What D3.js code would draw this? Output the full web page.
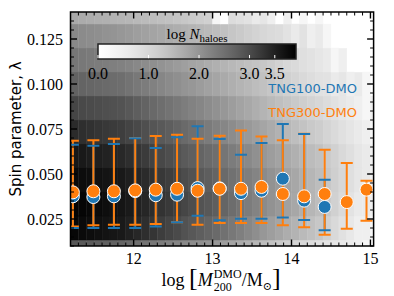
<!DOCTYPE html>
<html>
<head>
<meta charset="utf-8">
<script src="https://cdn.jsdelivr.net/npm/d3@7"></script>
<style>
  body { margin: 0; background: #fff; }
  svg { display: block; }
</style>
</head>
<body>
<div id="chart"></div>
<script>
// halo mass bin edges (log M200) and spin bin edges of the background histogram
const massEdges = [11.2, 11.3, 11.4, 11.5, 11.6, 11.7, 11.8, 11.9, 12.0, 12.1,
  12.2, 12.3, 12.4, 12.5, 12.6, 12.7, 12.8, 12.9, 13.0, 13.1,
  13.2, 13.3, 13.4, 13.5, 13.6, 13.7, 13.8, 13.9, 14.0, 14.1,
  14.2, 14.3, 14.4, 14.5, 14.6, 14.7, 14.8, 14.9, 15.0, 15.1];
const lambdaEdges = [0, 0.01333, 0.02667, 0.04, 0.05333, 0.06667, 0.08,
  0.09333, 0.10667, 0.12, 0.13333, 0.14667];

// log N_haloes per cell, one array per spin bin (bottom to top), null = empty
const logN_0 = [2.85,2.82,2.79,2.76,2.73,2.7,2.67,2.6,2.53,2.46,2.4,2.33,2.26,2.21,2.16,2.11,2.06,2.01,1.96,1.88,1.79,1.71,1.62,1.54,1.45,1.36,1.26,1.17,1.08,0.99,0.89,0.8,0.74,0.68,0.6,0.55,0.49,0.3,null];
const logN_1 = [3.83,3.79,3.75,3.71,3.67,3.63,3.59,3.51,3.42,3.34,3.26,3.17,3.09,3.01,2.92,2.84,2.76,2.67,2.59,2.49,2.38,2.28,2.17,2.07,1.96,1.86,1.77,1.67,1.58,1.48,1.39,1.29,1.13,0.97,0.81,0.65,0.49,0.48,0.3];
const logN_2 = [3.88,3.85,3.81,3.77,3.73,3.69,3.65,3.58,3.5,3.43,3.36,3.28,3.21,3.13,3.06,2.98,2.9,2.83,2.75,2.65,2.54,2.44,2.33,2.23,2.12,2.02,1.93,1.83,1.74,1.64,1.55,1.45,1.28,1.11,0.94,0.77,0.6,0.6,0.48];
const logN_3 = [3.79,3.76,3.73,3.69,3.66,3.62,3.59,3.52,3.44,3.37,3.3,3.22,3.15,3.07,2.99,2.91,2.83,2.75,2.67,2.58,2.49,2.4,2.3,2.21,2.12,2.02,1.93,1.83,1.74,1.64,1.55,1.45,1.3,1.15,1.0,0.85,0.7,0.6,0.48];
const logN_4 = [3.62,3.59,3.55,3.52,3.48,3.45,3.41,3.34,3.26,3.19,3.11,3.04,2.96,2.89,2.81,2.74,2.67,2.59,2.52,2.43,2.33,2.24,2.15,2.05,1.96,1.88,1.8,1.71,1.63,1.55,1.46,1.38,1.24,1.11,0.97,0.84,0.7,0.6,0.48];
const logN_5 = [3.38,3.34,3.3,3.26,3.23,3.19,3.15,3.08,3.02,2.95,2.88,2.82,2.75,2.67,2.59,2.51,2.42,2.34,2.26,2.18,2.1,2.01,1.93,1.85,1.77,1.69,1.6,1.52,1.43,1.35,1.26,1.18,1.06,0.95,0.83,0.72,0.6,0.48,0.3];
const logN_6 = [3.06,3.03,3.0,2.98,2.95,2.93,2.9,2.83,2.75,2.68,2.6,2.53,2.45,2.38,2.31,2.24,2.18,2.11,2.04,1.96,1.88,1.8,1.73,1.65,1.57,1.49,1.41,1.33,1.25,1.16,1.08,1.0,0.9,0.8,0.7,0.6,0.49,0.3,0.48];
const logN_7 = [2.7,2.67,2.64,2.61,2.58,2.55,2.52,2.45,2.39,2.32,2.25,2.19,2.12,2.06,2.0,1.95,1.89,1.83,1.77,1.7,1.64,1.57,1.51,1.44,1.38,1.3,1.21,1.13,1.05,0.96,0.88,0.8,0.78,0.6,0.7,0.48,0.6,0.3,null];
const logN_8 = [2.41,2.38,2.36,2.33,2.31,2.28,2.26,2.21,2.16,2.11,2.06,2.01,1.96,1.9,1.85,1.79,1.74,1.68,1.63,1.57,1.52,1.46,1.4,1.35,1.29,1.2,1.1,1.0,0.95,0.85,0.78,0.7,0.6,0.3,0.48,null,0,null,null];
const logN_9 = [2.15,2.12,2.09,2.06,2.02,1.99,1.96,1.92,1.87,1.83,1.78,1.74,1.69,1.65,1.61,1.57,1.53,1.49,1.45,1.38,1.3,1.23,1.15,1.08,1.0,0.95,0.9,0.78,0.6,0.78,0.48,0.6,0.3,null,0,null,null,null,null];
const logN_10 = [1.72,1.69,1.66,1.64,1.62,1.59,1.57,1.54,1.5,1.47,1.44,1.41,1.38,1.33,1.28,1.23,1.18,1.13,0.3,0,0.9,0.85,0.78,0.6,0.7,0.48,0,0.48,null,0.3,null,0.3,null,0,null,null,null,null,null];
const logNRows = [logN_0, logN_1, logN_2, logN_3, logN_4, logN_5, logN_6, logN_7, logN_8, logN_9, logN_10];

// binned medians and 16-84 percentiles
const massCentres = [11.23, 11.49, 11.75, 12.02, 12.28, 12.55, 12.81, 13.09, 13.36, 13.62, 13.89, 14.16, 14.42, 14.70, 14.95];
const tng300Median = [0.0398, 0.0404, 0.0404, 0.0409, 0.0413, 0.0418, 0.0407, 0.0418, 0.0418, 0.0428, 0.0389, 0.0376, 0.0389, 0.0344, 0.0413];
const tng300Hi = [0.0685, 0.0687, 0.0696, 0.0700, 0.0711, 0.0718, 0.0696, 0.0713, 0.0741, 0.0709, 0.0687, 0.0724, 0.0635, 0.0561, 0.0463];
const tng300Lo = [0.0209, 0.0215, 0.0218, 0.0218, 0.0222, 0.0232, 0.0218, 0.0228, 0.0228, 0.0228, 0.0215, 0.0204, 0.0163, 0.0196, 0.0240];
const tng100Median = [0.0376, 0.0372, 0.0376, 0.0405, 0.0382, 0.0385, 0.0422, 0.0420, 0.0394, 0.0407, 0.0474, 0.0352, 0.0317];
const tng100Hi = [0.0663, 0.0657, 0.0667, 0.0698, 0.0644, 0.0704, 0.0765, 0.0694, 0.0607, 0.0672, 0.0778, 0.0722, 0.0468];
const tng100Lo = [0.0200, 0.0200, 0.0200, 0.0200, 0.0209, 0.0232, 0.0268, 0.0243, 0.0252, 0.0252, 0.0259, 0.0244, 0.0187];

const xTicks = [12, 13, 14, 15];
const yTicks = [0.025, 0.05, 0.075, 0.1, 0.125];
const cbarTicks = [0.0, 1.0, 2.0, 3.0, 3.5];
const cbarMax = 3.92;

const blue = "#1f77b4", orange = "#ff7f0e";
const serif = "'Liberation Serif', 'DejaVu Serif', serif";
const sans = "'DejaVu Sans', sans-serif";

const width = 394, height = 296;
const pLeft = 70.5, pRight = 373.6, pTop = 12, pBottom = 246;

const svg = d3.select("#chart").append("svg")
    .attr("width", width).attr("height", height);

const x = d3.scaleLinear().domain([11.2, 15.04]).range([pLeft, pRight]);
const y = d3.scaleLinear().domain([0.01, 0.14]).range([pBottom, pTop]);
const colour = d3.scaleSequential(d3.interpolateGreys).domain([0, cbarMax]);

svg.append("clipPath").attr("id", "plot-clip")
  .append("rect").attr("x", pLeft).attr("y", pTop)
    .attr("width", pRight - pLeft).attr("height", pBottom - pTop);

const plot = svg.append("g").attr("clip-path", "url(#plot-clip)");

// background 2d histogram
const cells = [];
logNRows.forEach((row, r) => row.forEach((v, k) => {
  if (v !== null) cells.push({k, r, v});
}));
plot.append("g")
  .selectAll("rect")
  .data(cells)
  .join("rect")
    .attr("x", d => x(massEdges[d.k]))
    .attr("y", d => y(lambdaEdges[d.r + 1]))
    .attr("width", d => x(massEdges[d.k + 1]) - x(massEdges[d.k]))
    .attr("height", d => y(lambdaEdges[d.r]) - y(lambdaEdges[d.r + 1]))
    .attr("fill", d => colour(d.v))
    .attr("stroke", d => colour(d.v))
    .attr("stroke-width", 0.4);

// error bars + points
function stems(g, xs, lo, hi, col) {
  g.selectAll(null).data(xs).join("line")
    .attr("x1", m => x(m)).attr("x2", m => x(m))
    .attr("y1", (m, i) => y(lo[i])).attr("y2", (m, i) => y(hi[i]))
    .attr("stroke", col).attr("stroke-width", 2);
}
function caps(g, xs, lo, hi, col) {
  [lo, hi].forEach(vals => {
    g.selectAll(null).data(xs).join("line")
      .attr("x1", m => x(m) - 6).attr("x2", m => x(m) + 6)
      .attr("y1", (m, i) => y(vals[i])).attr("y2", (m, i) => y(vals[i]))
      .attr("stroke", col).attr("stroke-width", 2);
  });
}
function points(g, xs, med, col) {
  g.selectAll(null).data(med).join("circle")
    .attr("cx", (v, i) => x(xs[i])).attr("cy", v => y(v))
    .attr("r", 6.5)
    .attr("fill", col).attr("stroke", "#fff").attr("stroke-width", 1);
}

const bars = plot.append("g");
const x100 = massCentres.slice(0, tng100Median.length);
stems(bars.append("g"), x100, tng100Lo, tng100Hi, blue);
stems(bars.append("g"), massCentres, tng300Lo, tng300Hi, orange);
caps(bars.append("g"), massCentres, tng300Lo, tng300Hi, orange);
caps(bars.append("g"), x100, tng100Lo, tng100Hi, blue);
points(bars.append("g"), x100, tng100Median, blue);
points(bars.append("g"), massCentres, tng300Median, orange);

// axes frame and ticks (inward, mirrored)
const axes = svg.append("g").attr("stroke", "#000");
const xMinor = d3.range(112, 151).map(v => v / 10).filter(v => !xTicks.includes(v));
const yMinor = d3.range(2, 28).map(v => v * 0.005).filter(v => !yTicks.some(t => Math.abs(t - v) < 1e-6));

[[xTicks, 6.5, 1.4], [xMinor, 3.5, 1]].forEach(([vals, len, w]) => {
  vals.forEach(v => {
    axes.append("line").attr("x1", x(v)).attr("x2", x(v))
      .attr("y1", pBottom).attr("y2", pBottom - len).attr("stroke-width", w);
    axes.append("line").attr("x1", x(v)).attr("x2", x(v))
      .attr("y1", pTop).attr("y2", pTop + len).attr("stroke-width", w);
  });
});
[[yTicks, 6.5, 1.4], [yMinor, 3.5, 1]].forEach(([vals, len, w]) => {
  vals.forEach(v => {
    axes.append("line").attr("y1", y(v)).attr("y2", y(v))
      .attr("x1", pLeft).attr("x2", pLeft + len).attr("stroke-width", w);
    axes.append("line").attr("y1", y(v)).attr("y2", y(v))
      .attr("x1", pRight).attr("x2", pRight - len).attr("stroke-width", w);
  });
});
axes.append("rect").attr("x", pLeft).attr("y", pTop)
  .attr("width", pRight - pLeft).attr("height", pBottom - pTop)
  .attr("fill", "none").attr("stroke-width", 1.5);

svg.append("g").selectAll("text").data(xTicks).join("text")
  .attr("x", d => x(d)).attr("y", 264)
  .attr("text-anchor", "middle")
  .style("font-family", serif).style("font-size", "16px")
  .text(d => d);
svg.append("g").selectAll("text").data(yTicks).join("text")
  .attr("x", 63).attr("y", d => y(d) + 5.5)
  .attr("text-anchor", "end")
  .style("font-family", serif).style("font-size", "16px")
  .text(d => d3.format(".3f")(d));

// y label
svg.append("text")
  .attr("transform", `translate(21,${(pTop + pBottom) / 2}) rotate(-90)`)
  .attr("text-anchor", "middle")
  .style("font-family", sans).style("font-size", "15px")
  .text("Spin parameter, λ");

// x label: log [M_200^DMO / M_sun]
function textWidth(str, size, style) {
  const t = svg.append("text").style("font-family", serif)
    .style("font-size", size + "px").style("font-style", style || "normal").text(str);
  const w = t.node().getComputedTextLength();
  t.remove();
  return w;
}
const wSup = textWidth("DMO", 12), wSub = textWidth("200", 12);
const xl = svg.append("text").attr("x", 221).attr("y", 286)
  .attr("text-anchor", "middle")
  .style("font-family", serif).style("font-size", "18px");
xl.append("tspan").text("log ");
xl.append("tspan").style("font-size", "26px").text("[");
xl.append("tspan").style("font-style", "italic").text("M");
xl.append("tspan").style("font-size", "12px").attr("dy", -8).attr("dx", 1).text("DMO");
xl.append("tspan").style("font-size", "12px").attr("dy", 13).attr("dx", -wSup).text("200");
xl.append("tspan").attr("dy", -5).attr("dx", wSup - wSub).text("/M");
xl.append("tspan").style("font-size", "11px").attr("dy", 4).text("⊙");
xl.append("tspan").style("font-size", "26px").attr("dy", -4).text("]");

// legend
svg.append("text").attr("x", 357).attr("y", 93).attr("text-anchor", "end")
  .style("font-family", sans).style("font-size", "13px").attr("fill", blue)
  .text("TNG100-DMO");
svg.append("text").attr("x", 357).attr("y", 117).attr("text-anchor", "end")
  .style("font-family", sans).style("font-size", "13px").attr("fill", orange)
  .text("TNG300-DMO");

// colour bar
const cb = d3.scaleLinear().domain([0, cbarMax]).range([98, 296]);
const cbTop = 44, cbH = 15;
const grad = svg.append("defs").append("linearGradient").attr("id", "cbar-grad");
d3.range(0, 1.0001, 0.05).forEach(t => {
  grad.append("stop").attr("offset", t).attr("stop-color", d3.interpolateGreys(t));
});
svg.append("rect").attr("x", cb(0)).attr("y", cbTop)
  .attr("width", cb(cbarMax) - cb(0)).attr("height", cbH)
  .attr("fill", "url(#cbar-grad)")
  .attr("stroke", "#222").attr("stroke-width", 1.5);
svg.append("g").selectAll("line").data(cbarTicks).join("line")
  .attr("x1", d => cb(d)).attr("x2", d => cb(d))
  .attr("y1", cbTop + cbH - 0.8).attr("y2", cbTop + cbH - 4)
  .attr("stroke", "#fff").attr("stroke-width", 1);
svg.append("g").selectAll("text").data(cbarTicks).join("text")
  .attr("x", d => cb(d)).attr("y", 79)
  .attr("text-anchor", "middle")
  .style("font-family", serif).style("font-size", "16px")
  .text(d => d3.format(".1f")(d));
const ct = svg.append("text").attr("x", 197).attr("y", 39)
  .attr("text-anchor", "middle")
  .style("font-family", serif).style("font-size", "15px");
ct.append("tspan").text("log ");
ct.append("tspan").style("font-style", "italic").text("N");
ct.append("tspan").style("font-size", "11px").attr("dy", 3).text("haloes");
</script>
</body>
</html>
